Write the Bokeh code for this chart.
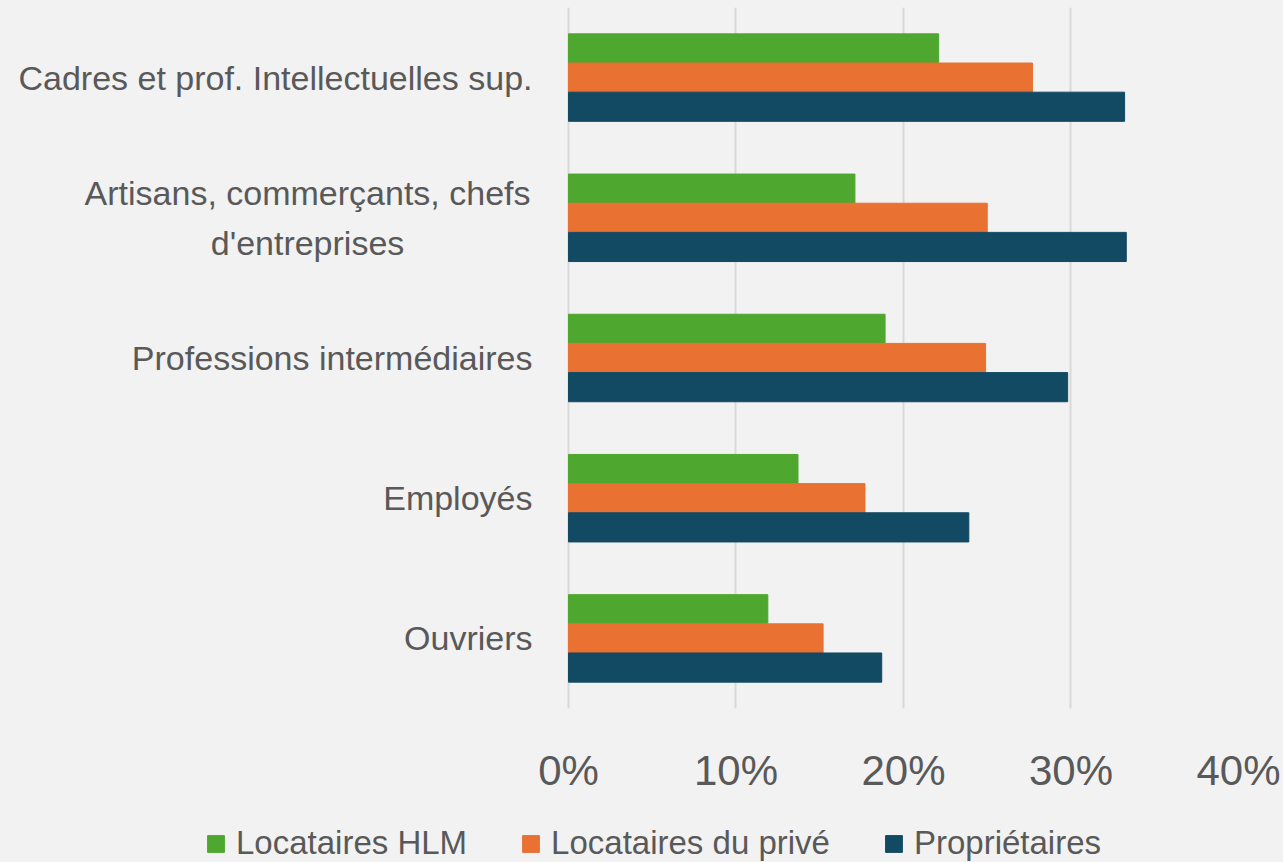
from bokeh.plotting import figure
from bokeh.layouts import column
from bokeh.models import (ColumnDataSource, FactorRange, Range1d, NumeralTickFormatter, FixedTicker,
                          Legend, LegendItem)
from bokeh.transform import dodge
from bokeh.embed import file_html
from bokeh.resources import INLINE

categories = ["Cadres et prof. Intellectuelles sup.",
              "Artisans, commerçants, chefs\nd'entreprises",
              "Professions intermédiaires",
              "Employés",
              "Ouvriers"]
series_names = ["Locataires HLM", "Locataires du privé", "Propriétaires"]
hlm = [0.221, 0.171, 0.189, 0.137, 0.119]
prive = [0.277, 0.250, 0.249, 0.177, 0.152]
proprio = [0.332, 0.333, 0.298, 0.239, 0.187]
x_ticks = [0, 0.1, 0.2, 0.3, 0.4]

colors = ["#4ea72e", "#e97132", "#124a63"]
FONT = "Liberation Sans"
TEXT = "#595959"
BG = "#f2f2f2"

src = ColumnDataSource(dict(cat=categories, hlm=hlm, prive=prive, proprio=proprio))
factors = list(reversed(categories))

# the frame spans the whole width; category labels are drawn left of the 0 line
p = figure(width=1283, height=810, output_backend="svg", toolbar_location=None,
           y_range=FactorRange(factors=factors, range_padding=0),
           x_range=Range1d(-0.3391, 0.4), y_axis_location=None,
           min_border_left=0, min_border_right=45, min_border_top=7, min_border_bottom=102)
p.background_fill_alpha = 0
p.border_fill_color = BG
p.outline_line_color = None

bh = 0.208
r1 = p.hbar(y=dodge("cat", bh, range=p.y_range), right="hlm", left=0, height=bh, source=src,
            fill_color=colors[0], line_color=colors[0])
r2 = p.hbar(y=dodge("cat", 0, range=p.y_range), right="prive", left=0, height=bh, source=src,
            fill_color=colors[1], line_color=colors[1])
r3 = p.hbar(y=dodge("cat", -bh, range=p.y_range), right="proprio", left=0, height=bh, source=src,
            fill_color=colors[2], line_color=colors[2])

# category labels
single = [c for c in categories if "\n" not in c]
multi = [c for c in categories if "\n" in c]
p.text(x=-0.0215, y="cat", text="cat", source=ColumnDataSource(dict(cat=single)),
       text_align="right", text_baseline="middle", text_font_size="34px",
       text_color=TEXT, text_font={"value": FONT})
p.text(x=-0.1558, y="cat", text="cat", source=ColumnDataSource(dict(cat=multi)),
       text_align="center", text_baseline="middle", text_font_size="34px",
       text_color=TEXT, text_font={"value": FONT}, text_line_height=1.32)

p.xaxis.ticker = FixedTicker(ticks=x_ticks)
p.xaxis.formatter = NumeralTickFormatter(format="0%")
p.xaxis.axis_line_color = None
p.xaxis.major_tick_line_color = None
p.xaxis.minor_tick_line_color = None
p.xaxis.major_label_text_font = FONT
p.xaxis.major_label_text_font_size = "42px"
p.xaxis.major_label_text_color = TEXT
p.xaxis.major_label_standoff = 32

p.ygrid.grid_line_color = None
p.xgrid.ticker = FixedTicker(ticks=x_ticks)
p.xgrid.grid_line_color = "#d9d9d9"
p.xgrid.grid_line_width = 2

# legend strip below the chart
q = figure(width=1283, height=52, output_backend="svg", toolbar_location=None,
           x_range=Range1d(0, 1), y_range=Range1d(0, 1), x_axis_location=None, y_axis_location=None,
           min_border_left=0, min_border_right=45, min_border_top=0, min_border_bottom=0)
q.background_fill_alpha = 0
q.border_fill_color = BG
q.outline_line_color = None
q.grid.visible = False
# legend swatches (their single zero-width bar sits outside the strip's view)
legend_renderers = [q.hbar(y=[-5], right=[0], left=0, height=0.1, fill_color=c, line_color=c)
                    for c in colors]
legend = Legend(items=[LegendItem(label=n, renderers=[r]) for n, r in zip(series_names, legend_renderers)],
                orientation="horizontal", location=(205, 0),
                label_text_font=FONT, label_text_font_size="33px", label_text_color=TEXT,
                glyph_width=21, glyph_height=21, label_standoff=10, spacing=53,
                padding=0, margin=0, border_line_color=None, background_fill_alpha=0)
q.add_layout(legend, "center")

layout = column(p, q, spacing=0, styles={"background-color": BG})
open("out.html", "w").write(file_html(layout, INLINE))
